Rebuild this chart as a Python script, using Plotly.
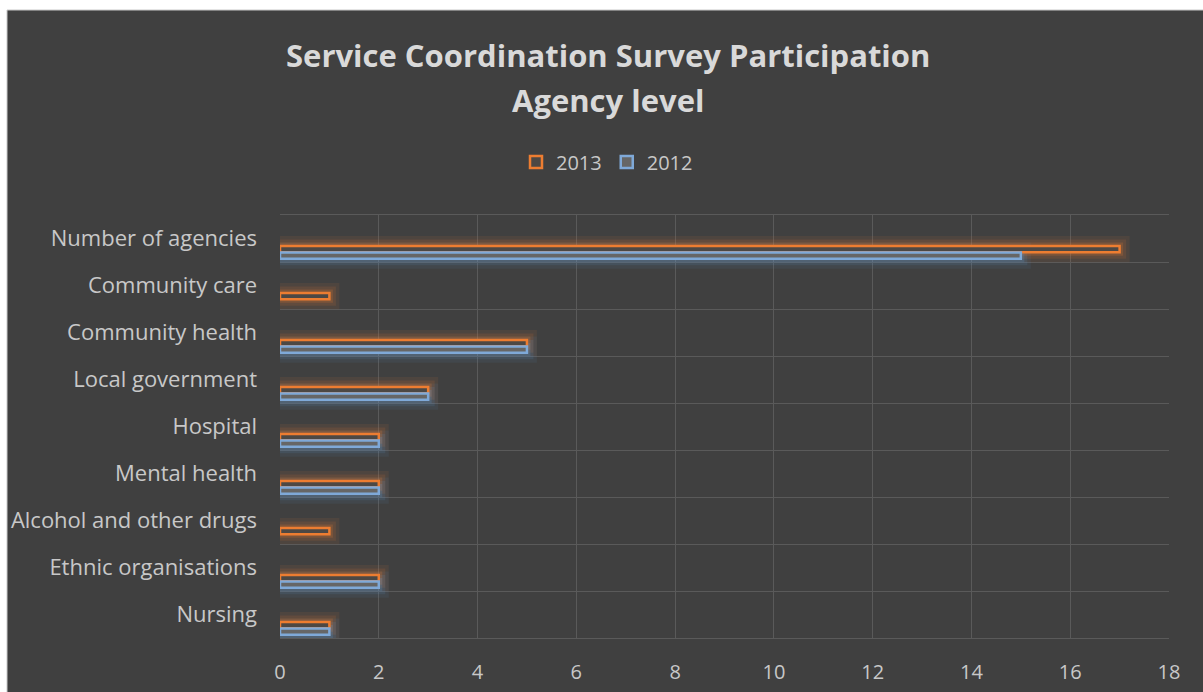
import plotly.graph_objects as go

categories = ["Number of agencies", "Community care", "Community health", "Local government",
              "Hospital", "Mental health", "Alcohol and other drugs", "Ethnic organisations", "Nursing"]
values_2013 = [17, 1, 5, 3, 2, 2, 1, 2, 1]
values_2012 = [15, 0, 5, 3, 2, 2, 0, 2, 1]
x_ticks = [0, 2, 4, 6, 8, 10, 12, 14, 16, 18]

W, H = 1203, 692
L, R, T, B = 280, 1169, 215, 638
pw, ph = R - L, B - T

def px_x(x):
    return (x - L) / pw

def px_y(y):
    return 1 + (T - y) / ph

pos = list(range(len(categories)))
ORANGE = "#ED7D31"
BG = "#404040"
GRID = "#5a5a5a"
TXT = "#c8c8c8"
FONT = "Open Sans"

fig = go.Figure()

# soft glow layers
series = [(values_2013, (237, 125, 49), 0.16), (values_2012, (91, 155, 213), 0.30)]
for lw, alpha in [(20, 0.08), (13, 0.12), (7, 0.2)]:
    for vals, (r, g, b), off in series:
        fig.add_trace(go.Bar(
            y=pos, x=vals, orientation="h", width=0.13, offset=off,
            marker=dict(color="rgba(0,0,0,0)",
                        line=dict(color=f"rgba({r},{g},{b},{alpha})",
                                  width=[lw if v > 0 else 0 for v in vals])),
            showlegend=False, hoverinfo="skip"))

fig.add_trace(go.Bar(
    y=pos, x=values_2013, orientation="h", width=0.13, offset=0.16, name="2013",
    marker=dict(color="#4d4844",
                line=dict(color=ORANGE, width=[2.5 if v > 0 else 0 for v in values_2013]))))
fig.add_trace(go.Bar(
    y=pos, x=values_2012, orientation="h", width=0.13, offset=0.30, name="2012",
    marker=dict(color="#666666",
                line=dict(color="#7fa9d8", width=[2.5 if v > 0 else 0 for v in values_2012]))))

fig.update_layout(
    width=W, height=H,
    margin=dict(l=L, r=W - R, t=T, b=H - B, pad=0, autoexpand=False),
    paper_bgcolor="white",
    plot_bgcolor=BG,
    barmode="overlay",
    font=dict(family=FONT, color=TXT, size=20),
    showlegend=True,
    legend=dict(orientation="h", x=px_x(607), xanchor="center", y=px_y(162), yanchor="middle",
                font=dict(size=20, color=TXT), bgcolor="rgba(0,0,0,0)",
                itemwidth=30, traceorder="normal", tracegroupgap=0),
    xaxis=dict(range=[0, 18], tickvals=x_ticks, showgrid=True, gridcolor=GRID, gridwidth=1,
               zeroline=False, showline=True, mirror=True, linecolor=GRID, linewidth=1,
               ticks="", ticklabelstandoff=16, automargin=False,
               tickfont=dict(size=20, color=TXT)),
    yaxis=dict(range=[len(categories) - 0.5, -0.5], tickvals=pos, ticktext=categories,
               showgrid=False, zeroline=False, showline=False, ticks="", ticklabelstandoff=22,
               automargin=False,
               tickfont=dict(size=22, color=TXT),
               minor=dict(tick0=-0.5, dtick=1, showgrid=True, gridcolor=GRID, gridwidth=1, ticks="")),
    shapes=[dict(type="rect", xref="paper", yref="paper", layer="below",
                 x0=px_x(7), x1=px_x(W + 2), y0=px_y(H + 2), y1=px_y(10),
                 fillcolor=BG, line=dict(color="#c8c8c8", width=1))],
    annotations=[
        dict(text="<b>Service Coordination Survey Participation</b>", xref="paper", yref="paper",
             x=px_x(608), y=px_y(55), xanchor="center", yanchor="middle", showarrow=False,
             font=dict(size=31, color="#d9d9d9", family=FONT)),
        dict(text="<b>Agency level</b>", xref="paper", yref="paper",
             x=px_x(608), y=px_y(100), xanchor="center", yanchor="middle", showarrow=False,
             font=dict(size=31, color="#d9d9d9", family=FONT)),
    ],
)

fig.write_html("out.html")
